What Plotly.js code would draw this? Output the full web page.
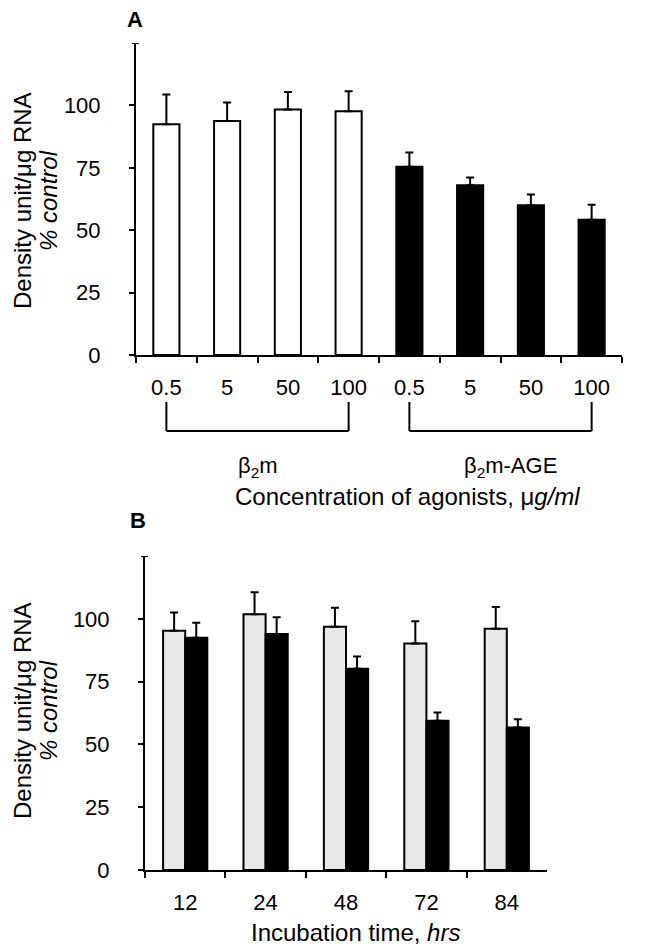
<!DOCTYPE html>
<html><head><meta charset="utf-8">
<script src="https://cdn.plot.ly/plotly-3.0.1.min.js"></script>
<style>html,body{margin:0;padding:0;background:#fff}</style>
</head><body><div id="chart" style="width:660px;height:951px"></div>
<script>
// ---- Panel A data ----
const concLabels = ['0.5','5','50','100','0.5','5','50','100'];
const groupIndex = [0,0,0,0,1,1,1,1];
const groupNames = ['β<sub>2</sub>m','β<sub>2</sub>m-AGE'];
const densityA = [92.4, 93.7, 98.4, 97.7, 75.4, 68.0, 60.0, 54.2];
const errorA = [12.0, 7.5, 7.0, 8.0, 5.7, 3.1, 4.3, 6.0];
// ---- Panel B data ----
const incubationHours = ['12','24','48','72','84'];
const densityBLight = [95.2, 101.8, 96.8, 90.2, 96.0];
const errorBLight = [7.3, 8.8, 7.6, 8.8, 8.7];
const densityBDark = [92.5, 93.9, 80.1, 59.4, 56.7];
const errorBDark = [5.9, 6.7, 4.9, 3.3, 3.3];
// ---- axis ticks ----
const yTickVals = [0,25,50,75,100];
const yAxisTop = 125;

const W = 660, H = 951;
const px = v => v / W;
const py = v => 1 - v / H;
const FONT = 'Liberation Sans, Arial, Helvetica, sans-serif';
const groupColors = ['#ffffff', '#000000'];

const catIds = concLabels.map((c, i) => 'g' + groupIndex[i] + '-' + c);
const zerosA = densityA.map(() => 0);
const zerosB = densityBLight.map(() => 0);

const errStyle = {type: 'data', symmetric: false, color: '#000', thickness: 2, width: 4};

const traces = [
  {
    type: 'bar', x: catIds, y: densityA, xaxis: 'x', yaxis: 'y', width: 0.43,
    marker: {color: groupIndex.map(g => groupColors[g]), line: {color: '#000', width: 2}},
    error_y: Object.assign({array: errorA, arrayminus: zerosA}, errStyle),
    showlegend: false, hoverinfo: 'skip'
  },
  {
    type: 'bar', x: incubationHours, y: densityBLight, xaxis: 'x2', yaxis: 'y2',
    marker: {color: '#e8e8e8', line: {color: '#000', width: 2}},
    error_y: Object.assign({array: errorBLight, arrayminus: zerosB}, errStyle),
    showlegend: false, hoverinfo: 'skip'
  },
  {
    type: 'bar', x: incubationHours, y: densityBDark, xaxis: 'x2', yaxis: 'y2',
    marker: {color: '#000', line: {color: '#000', width: 2}},
    error_y: Object.assign({array: errorBDark, arrayminus: zerosB}, errStyle),
    showlegend: false, hoverinfo: 'skip'
  }
];

const xBase = {
  type: 'category', tickson: 'boundaries', ticks: 'outside', ticklen: 6, tickwidth: 2,
  tickcolor: '#000', showline: true, linewidth: 2, linecolor: '#000', showgrid: false,
  zeroline: false, tickfont: {family: FONT, size: 22, color: '#000'}, ticklabelstandoff: 12,
  fixedrange: true
};
const yBase = {
  range: [0, yAxisTop], tickmode: 'array', tickvals: yTickVals,
  ticks: 'outside', ticklen: 5, tickwidth: 2, tickcolor: '#000', showline: true,
  linewidth: 2, linecolor: '#000', showgrid: false, zeroline: false,
  tickfont: {family: FONT, size: 22, color: '#000'}, ticklabelstandoff: 24, fixedrange: true
};

const shapes = [];
const annotations = [];
const blk = {color: '#000', width: 2};
// small end cap at the top of each y axis (no label)
[['x', 'y'], ['x2', 'y2']].forEach(([xa, ya]) => {
  shapes.push({type: 'line', xref: xa + ' domain', yref: ya, xsizemode: 'pixel', xanchor: 0,
    x0: -4, x1: 3, y0: yAxisTop, y1: yAxisTop, line: blk});
});
groupNames.forEach((name, g) => {
  const idx = groupIndex.map((gi, i) => gi === g ? i : -1).filter(i => i >= 0);
  const a = idx[0], b = idx[idx.length - 1];
  shapes.push({type: 'line', xref: 'x', yref: 'paper', x0: a, x1: a, y0: py(402), y1: py(431), line: blk});
  shapes.push({type: 'line', xref: 'x', yref: 'paper', x0: a, x1: b, y0: py(431), y1: py(431), line: blk});
  shapes.push({type: 'line', xref: 'x', yref: 'paper', x0: b, x1: b, y0: py(402), y1: py(431), line: blk});
  annotations.push({xref: 'x', yref: 'paper', x: (a + b) / 2, y: py(467), text: name,
    showarrow: false, xanchor: 'center', yanchor: 'middle', xshift: g === 1 ? 10 : 0,
    font: {family: FONT, size: 22, color: '#000'}});
});

const yTitleLines = ['Density unit/μg RNA', '<i>% control</i>'];
const yTitleX = [22, 48];
[201, 711].forEach(cy => {
  yTitleLines.forEach((t, i) => {
    annotations.push({xref: 'paper', yref: 'paper', x: px(yTitleX[i]), y: py(cy), text: t, textangle: -90,
      showarrow: false, xanchor: 'center', yanchor: 'middle', font: {family: FONT, size: 24, color: '#000'}});
  });
});
annotations.push(
  {xref: 'paper', yref: 'paper', x: px(135), y: py(20), text: '<b>A</b>', showarrow: false,
   xanchor: 'center', yanchor: 'middle', font: {family: FONT, size: 22, color: '#000'}},
  {xref: 'paper', yref: 'paper', x: px(138), y: py(520), text: '<b>B</b>', showarrow: false,
   xanchor: 'center', yanchor: 'middle', font: {family: FONT, size: 22, color: '#000'}},
  {xref: 'paper', yref: 'paper', x: px(407), y: py(496), text: 'Concentration of agonists, μ<i>g/ml</i>',
   showarrow: false, xanchor: 'center', yanchor: 'middle', font: {family: FONT, size: 24, color: '#000'}},
  {xref: 'paper', yref: 'paper', x: px(355), y: py(932), text: 'Incubation time, <i>hrs</i>',
   showarrow: false, xanchor: 'center', yanchor: 'middle', font: {family: FONT, size: 24, color: '#000'}}
);

const layout = {
  width: W, height: H, margin: {l: 0, r: 0, t: 0, b: 0},
  paper_bgcolor: '#fff', plot_bgcolor: 'rgba(0,0,0,0)',
  barmode: 'group', bargap: 0.45, bargroupgap: 0,
  font: {family: FONT, color: '#000'},
  showlegend: false,
  xaxis: Object.assign({}, xBase, {domain: [px(136), px(622)], anchor: 'y', range: [-0.5, 7.5],
    tickmode: 'array', tickvals: catIds, ticktext: concLabels, categoryorder: 'array', categoryarray: catIds}),
  yaxis: Object.assign({}, yBase, {domain: [py(355), py(43)], anchor: 'x'}),
  xaxis2: Object.assign({}, xBase, {domain: [px(145), px(547)], anchor: 'y2', range: [-0.5, 4.5]}),
  yaxis2: Object.assign({}, yBase, {domain: [py(870), py(556)], anchor: 'x2'}),
  shapes, annotations
};

Plotly.newPlot('chart', traces, layout, {displayModeBar: false, staticPlot: true});
</script>
</body></html>
